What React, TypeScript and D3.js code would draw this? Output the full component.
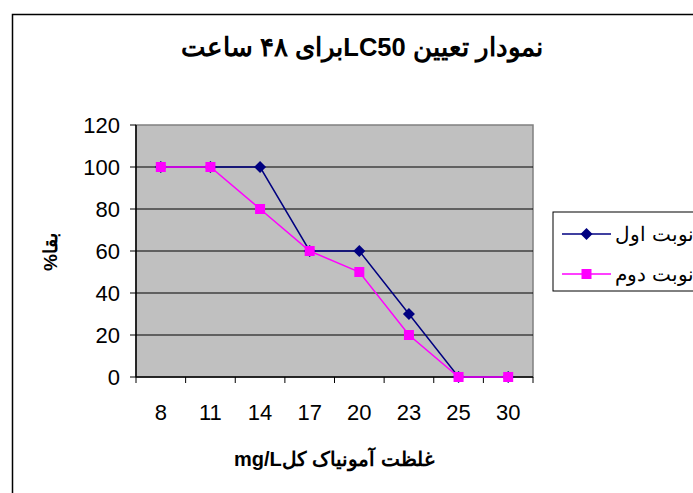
import React from "react";
import * as d3 from "d3";

const categories = ["8", "11", "14", "17", "20", "23", "25", "30"];
const series1 = [100, 100, 100, 60, 60, 30, 0, 0];
const series2 = [100, 100, 80, 60, 50, 20, 0, 0];
const seriesNames = ["نوبت اول", "نوبت دوم"];
const yTicks = [0, 20, 40, 60, 80, 100, 120];
const title = "نمودار تعیین LC50برای ۴۸ ساعت";
const xTitle = "غلظت آمونیاک کلmg/L";
const yTitle = "بقا%";

const W = 693;
const H = 493;
const plot = { left: 136, right: 533, top: 125, bottom: 377 };
const font = "'Liberation Sans', Arial, sans-serif";

export default function App() {
  const x = d3.scaleBand<string>().domain(categories).range([plot.left, plot.right]);
  const y = d3.scaleLinear().domain([0, 120]).range([plot.bottom, plot.top]);
  const cx = (c: string) => (x(c) as number) + x.bandwidth() / 2;
  const line = d3
    .line<number>()
    .x((_, i) => cx(categories[i]))
    .y((d) => y(d));
  const diamond = (px: number, py: number, r: number) =>
    `M${px},${py - r}L${px + r},${py}L${px},${py + r}L${px - r},${py}Z`;

  return (
    <svg
      width={W}
      height={H}
      style={{ position: "absolute", left: 0, top: 0, display: "block" }}
    >
      <rect x={0} y={0} width={W} height={H} fill="#ffffff" />
      <rect x={12.5} y={14.5} width={W + 20} height={H + 20} fill="none" stroke="#000" strokeWidth={1.5} />
      <text
        x={362}
        y={56}
        textAnchor="middle"
        direction="rtl"
        fontFamily={font}
        fontWeight="bold"
        fontSize={25.5}
      >
        {title}
      </text>
      {/* plot area */}
      <rect
        x={plot.left}
        y={plot.top}
        width={plot.right - plot.left}
        height={plot.bottom - plot.top}
        fill="#C0C0C0"
        stroke="#808080"
        strokeWidth={1.5}
      />
      {yTicks.map((t) => (
        <g key={t}>
          {t > 0 && t < 120 && (
            <line x1={plot.left} x2={plot.right} y1={y(t)} y2={y(t)} stroke="#000" strokeWidth={1} />
          )}
          <line x1={plot.left - 6} x2={plot.left} y1={y(t)} y2={y(t)} stroke="#000" strokeWidth={1} />
          <text
            x={plot.left - 16}
            y={y(t)}
            dy="0.36em"
            textAnchor="end"
            fontFamily={font}
            fontSize={22}
          >
            {t}
          </text>
        </g>
      ))}
      <line x1={plot.left} x2={plot.left} y1={plot.top} y2={plot.bottom} stroke="#000" strokeWidth={1.5} />
      <line x1={plot.left} x2={plot.right} y1={plot.bottom} y2={plot.bottom} stroke="#000" strokeWidth={1.5} />
      {categories.map((c) => (
        <line
          key={"b" + c}
          x1={x(c) as number}
          x2={x(c) as number}
          y1={plot.bottom}
          y2={plot.bottom + 6}
          stroke="#000"
          strokeWidth={1}
        />
      ))}
      <line x1={plot.right} x2={plot.right} y1={plot.bottom} y2={plot.bottom + 6} stroke="#000" strokeWidth={1} />
      {categories.map((c) => (
        <text
          key={"l" + c}
          x={cx(c)}
          y={420}
          textAnchor="middle"
          fontFamily={font}
          fontSize={22}
        >
          {c}
        </text>
      ))}
      {/* series */}
      <path d={line(series1) || ""} fill="none" stroke="#000080" strokeWidth={1.5} />
      {series1.map((v, i) => (
        <path key={"d" + i} d={diamond(cx(categories[i]), y(v), 6)} fill="#000080" />
      ))}
      <path d={line(series2) || ""} fill="none" stroke="#FF00FF" strokeWidth={1.5} />
      {series2.map((v, i) => (
        <rect
          key={"s" + i}
          x={cx(categories[i]) - 5}
          y={y(v) - 5}
          width={10}
          height={10}
          fill="#FF00FF"
        />
      ))}
      {/* axis titles */}
      <text
        x={334}
        y={466}
        textAnchor="middle"
        direction="rtl"
        fontFamily={font}
        fontWeight="bold"
        fontSize={20}
      >
        {xTitle}
      </text>
      <text
        transform={`translate(57, 252) rotate(-90)`}
        textAnchor="middle"
        direction="rtl"
        fontFamily={font}
        fontWeight="bold"
        fontSize={19}
      >
        {yTitle}
      </text>
      {/* legend */}
      <rect x={553} y={212} width={160} height={79} fill="#fff" stroke="#000" strokeWidth={1} />
      <line x1={562} x2={611} y1={234} y2={234} stroke="#000080" strokeWidth={1.5} />
      <path d={diamond(586.5, 234, 6)} fill="#000080" />
      <text x={615} y={234} dy="0.36em" fontFamily={font} fontSize={20}>
        {seriesNames[0]}
      </text>
      <line x1={562} x2={611} y1={274} y2={274} stroke="#FF00FF" strokeWidth={1.5} />
      <rect x={581.5} y={269} width={10} height={10} fill="#FF00FF" />
      <text x={615} y={274} dy="0.36em" fontFamily={font} fontSize={20}>
        {seriesNames[1]}
      </text>
    </svg>
  );
}
